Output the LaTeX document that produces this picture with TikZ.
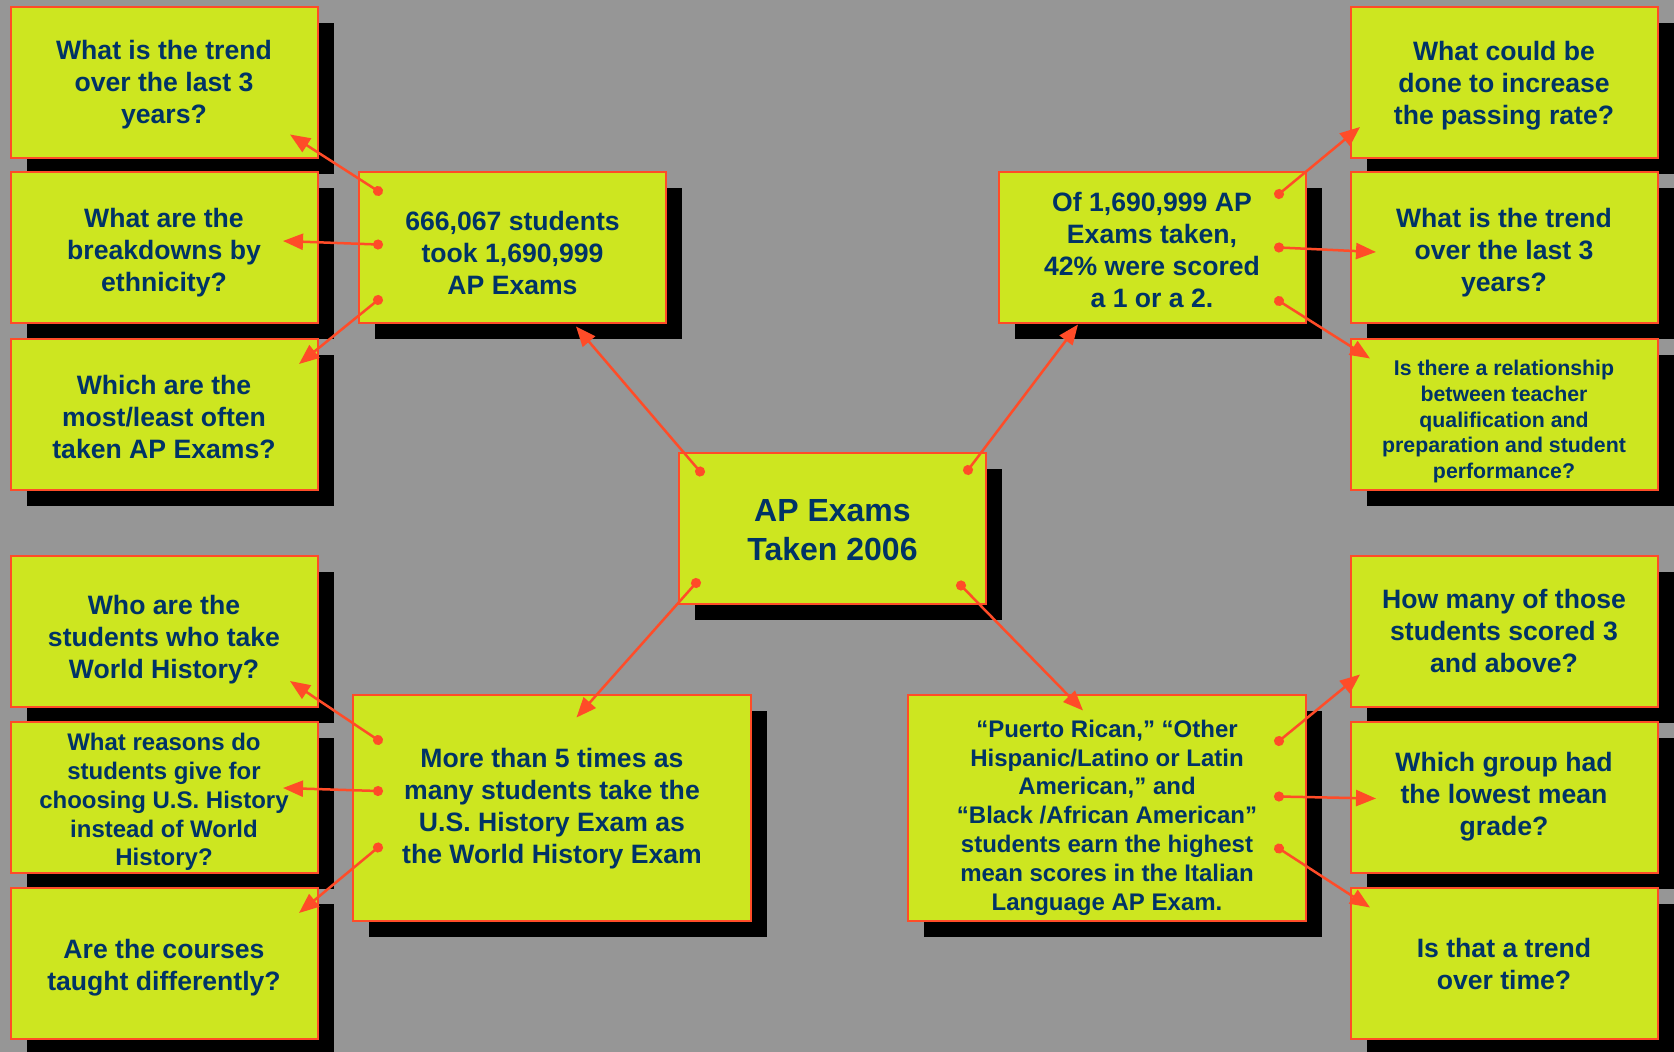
\documentclass[tikz,border=0pt]{standalone}
\usepackage{fontspec}
\setmainfont{Liberation Sans}
\usepackage{xcolor}
\usetikzlibrary{arrows.meta,shadows}
\definecolor{bggray}{RGB}{150,150,150}
\definecolor{lime}{RGB}{205,230,32}
\definecolor{rimred}{RGB}{255,76,40}
\definecolor{navy}{RGB}{0,51,102}
\newcommand{\lead}[1]{\rule{0pt}{\dimexpr0.73em+#1*2\relax}}

\begin{document}
\begin{tikzpicture}[x=1pt,y=-1pt,
    box/.style={draw=rimred,fill=lime,line width=2pt,text=navy,align=center,
        font=\bfseries\fontsize{26.6}{32}\selectfont,inner sep=0pt,
        minimum width=307pt,minimum height=151pt,
        general shadow={fill=black,shadow xshift=16pt,shadow yshift=-16pt}},
    wide/.style={box,minimum width=398pt,minimum height=226pt},
    small/.style={font=\bfseries\fontsize{24}{28.8}\selectfont},
    link/.style={draw=rimred,line width=2.5pt,
        {Circle[length=10pt]}-{Triangle[length=20pt,width=16pt]},shorten <=-5pt}]
    \useasboundingbox (0,0) rectangle (1674,1052);
    \fill[bggray] (0,0) rectangle (1674,1052);

    \node[box] (tr3) at (164,82) {\lead{3pt}What is the trend\\over the last 3\\years?};
    \node[box] (eth) at (164,247.5) {\lead{5pt}What are the\\breakdowns by\\ethnicity?};
    \node[box] (most) at (164,414) {\lead{3pt}Which are the\\most/least often\\taken AP Exams?};
    \node[box] (who) at (164,631) {\lead{8.5pt}Who are the\\students who take\\World History?};
    \node[box,small] (why) at (164,797) {\lead{5pt}What reasons do\\students give for\\choosing U.S. History\\instead of World\\History?};
    \node[box] (taught) at (164,963) {\lead{5pt}Are the courses\\taught differently?};

    \node[box] (stu) at (512.5,247.5) {\lead{5pt}666,067 students\\took 1,690,999\\AP Exams};
    \node[box,font=\bfseries\fontsize{32}{38.4}\selectfont] (ctr) at (832.5,528.5) {\lead{1pt}AP Exams\\Taken 2006};
    \node[box] (fail) at (1152,247.5) {\lead{2pt}Of 1,690,999 AP\\Exams taken,\\42\% were scored\\a 1 or a 2.};
    \node[wide] (hist) at (552,808) {\lead{1pt}More than 5 times as\\many students take the\\U.S. History Exam as\\the World History Exam};
    \node[wide,small] (ital) at (1107,808) {\lead{9.5pt}“Puerto Rican,” “Other\\Hispanic/Latino or Latin\\American,” and\\“Black /African American”\\students earn the highest\\mean scores in the Italian\\Language AP Exam.};

    \node[box] (pass) at (1504,82) {\lead{4pt}What could be\\done to increase\\the passing rate?};
    \node[box] (trd) at (1504,247.5) {\lead{5pt}What is the trend\\over the last 3\\years?};
    \node[box,font=\bfseries\fontsize{21.3}{25.6}\selectfont] (rel) at (1504,414) {\lead{7.5pt}Is there a relationship\\between teacher\\qualification and\\preparation and student\\performance?};
    \node[box] (above) at (1504,631) {How many of those\\students scored 3\\and above?};
    \node[box] (low) at (1504,797) {Which group had\\the lowest mean\\grade?};
    \node[box] (time) at (1504,963) {\lead{1pt}Is that a trend\\over time?};

    \coordinate (ctr-a) at (700,471.5);
    \coordinate (ctr-b) at (968,470);
    \coordinate (ctr-c) at (696,583);
    \coordinate (ctr-d) at (961,585.5);
    \coordinate (stu-a) at (378,191);
    \coordinate (stu-b) at (378,244.5);
    \coordinate (stu-c) at (378,300);
    \coordinate (fail-a) at (1279,194);
    \coordinate (fail-b) at (1279,247.5);
    \coordinate (fail-c) at (1279,301);
    \coordinate (hist-a) at (378,740);
    \coordinate (hist-b) at (378,791);
    \coordinate (hist-c) at (378,847.5);
    \coordinate (ital-a) at (1279,741);
    \coordinate (ital-b) at (1279,796.5);
    \coordinate (ital-c) at (1279,848.5);

    \coordinate (stu-in) at (576,326.5);
    \coordinate (fail-in) at (1078,324.5);
    \coordinate (hist-in) at (576.5,717.5);
    \coordinate (ital-in) at (1083,710.5);
    \coordinate (tr3-in) at (290,134.5);
    \coordinate (eth-in) at (283,241);
    \coordinate (most-in) at (299,364);
    \coordinate (who-in) at (290,681);
    \coordinate (why-in) at (283,788);
    \coordinate (taught-in) at (299,913);
    \coordinate (pass-in) at (1360,127);
    \coordinate (trd-in) at (1376,252);
    \coordinate (rel-in) at (1370,358.5);
    \coordinate (above-in) at (1360,674.5);
    \coordinate (low-in) at (1376,798.5);
    \coordinate (time-in) at (1370,907.5);

    \draw
    (ctr-a) edge[link] (stu-in)
    (ctr-b) edge[link] (fail-in)
    (ctr-c) edge[link] (hist-in)
    (ctr-d) edge[link] (ital-in)
    (stu-a) edge[link] (tr3-in)
    (stu-b) edge[link] (eth-in)
    (stu-c) edge[link] (most-in)
    (hist-a) edge[link] (who-in)
    (hist-b) edge[link] (why-in)
    (hist-c) edge[link] (taught-in)
    (fail-a) edge[link] (pass-in)
    (fail-b) edge[link] (trd-in)
    (fail-c) edge[link] (rel-in)
    (ital-a) edge[link] (above-in)
    (ital-b) edge[link] (low-in)
    (ital-c) edge[link] (time-in);
\end{tikzpicture}
\end{document}
